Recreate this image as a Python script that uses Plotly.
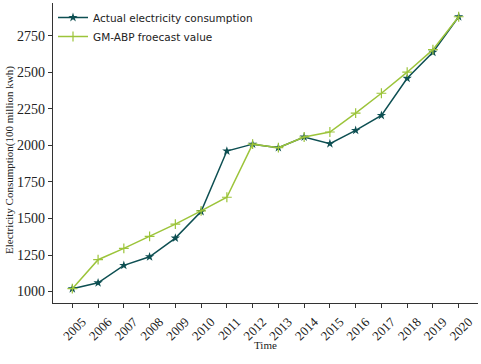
import plotly.graph_objects as go

years = [str(y) for y in range(2005, 2021)]
actual = [1020, 1060, 1179, 1238, 1366, 1547, 1961, 2008, 1984, 2057, 2011, 2102, 2204, 2458, 2636, 2879]
forecast = [1020, 1218, 1295, 1377, 1461, 1552, 1645, 2008, 1984, 2057, 2091, 2220, 2356, 2500, 2654, 2879]

dark = "#0d4f52"
green = "#9cc43a"

fig = go.Figure()
fig.add_trace(go.Scatter(
    x=list(range(len(years))), y=actual, mode="lines+markers",
    name="Actual electricity consumption",
    line=dict(color=dark, width=1.5),
    marker=dict(symbol="star", size=7, color=dark, line=dict(width=0)),
))
fig.add_trace(go.Scatter(
    x=list(range(len(years))), y=forecast, mode="lines+markers",
    name="GM-ABP froecast value",
    line=dict(color=green, width=1.5),
    marker=dict(symbol="cross-thin-open", size=7, color=green, line=dict(width=1.2, color=green)),
))

fig.update_layout(
    width=481, height=364,
    margin=dict(l=53, r=3, t=3, b=61, autoexpand=False),
    paper_bgcolor="white", plot_bgcolor="white",
    showlegend=True,
    legend=dict(x=0.0, y=1.0, xanchor="left", yanchor="top",
                font=dict(family="DejaVu Sans", size=10.5, color="#222"),
                bgcolor="rgba(0,0,0,0)", tracegroupgap=0),
    font=dict(family="Liberation Serif", color="#222"),
    annotations=[
        dict(text="Time", xref="paper", yref="paper", x=0.5, y=(364 - 345 - 61) / 300,
             xanchor="center", yanchor="middle", showarrow=False,
             font=dict(family="Liberation Serif", size=11, color="#222")),
        dict(text="Electricity Consumption(100 million kwh)", xref="paper", yref="paper",
             x=(9 - 53) / 425, y=(303 - 160) / 300, textangle=-90,
             xanchor="center", yanchor="middle", showarrow=False,
             font=dict(family="Liberation Serif", size=11, color="#222")),
    ],
)
fig.update_xaxes(
    range=[-0.75, 15.75], automargin=False,
    tickmode="array", tickvals=list(range(len(years))), ticktext=years,
    tickangle=-45, tickfont=dict(family="Liberation Serif", size=13, color="#222"),
    ticklabelshift=10, ticklabelstandoff=1,
    ticks="outside", ticklen=4, tickcolor="#333",
    showline=True, linecolor="#333", linewidth=1.2, mirror=False,
    showgrid=False, zeroline=False,
)
fig.update_yaxes(
    range=[922, 2973], automargin=False,
    tickvals=[1000, 1250, 1500, 1750, 2000, 2250, 2500, 2750],
    tickfont=dict(family="Liberation Serif", size=14, color="#222"),
    ticks="outside", ticklen=4, tickcolor="#333",
    showline=True, linecolor="#333", linewidth=1.2, mirror=False,
    showgrid=False, zeroline=False,
)

fig.write_html("out.html", config={"displayModeBar": False},
               post_script="document.body.style.margin='0';")
